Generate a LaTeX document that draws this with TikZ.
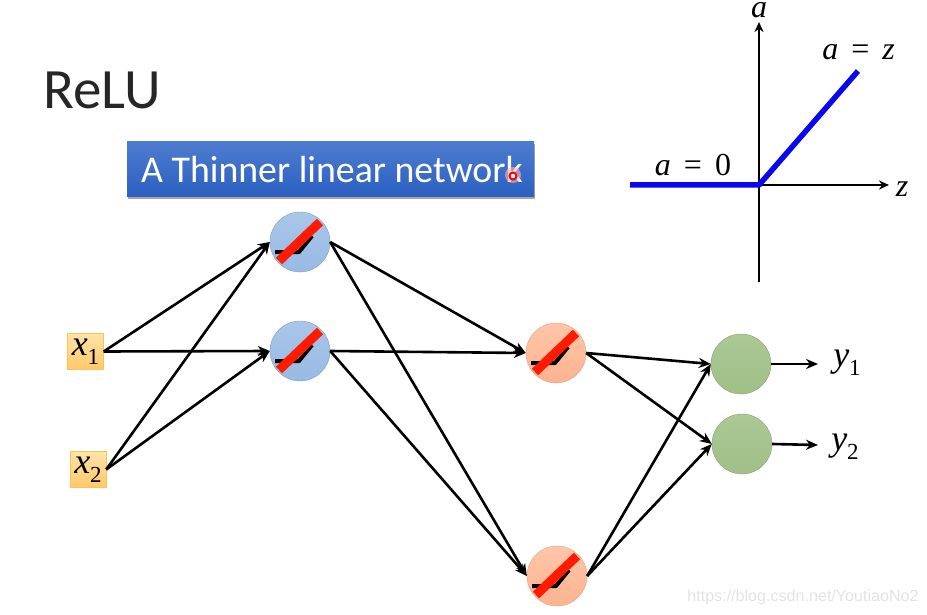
\documentclass[tikz,border=0pt]{standalone}
\usepackage{fontspec}
\setsansfont{Carlito}
\setmainfont{Liberation Serif}
\newfontfamily\markfont{Liberation Sans}
\usetikzlibrary{calc,shadows,arrows.meta}

\definecolor{bluetop}{HTML}{AAC6EA}
\definecolor{bluebot}{HTML}{97BAE3}
\definecolor{orangetop}{HTML}{FFC6A8}
\definecolor{orangebot}{HTML}{FCB390}
\definecolor{greentop}{HTML}{ABC895}
\definecolor{greenbot}{HTML}{A0C088}
\definecolor{relured}{HTML}{FF1A00}
\definecolor{relublue}{HTML}{0808EE}
\definecolor{bantop}{HTML}{4F7BCF}
\definecolor{banbot}{HTML}{2A60C0}
\definecolor{boxtop}{HTML}{FFE3A8}
\definecolor{boxbot}{HTML}{FFC86A}
\definecolor{boxline}{HTML}{F5C650}
\definecolor{titleink}{HTML}{262626}

\newcommand{\sbs}[1]{\raisebox{-9pt}{\fontsize{23}{24}\selectfont\upshape #1}}
\newcommand{\eqs}{\hspace{13pt}=\hspace{13pt}}

\tikzset{
  wire/.style = {line width = 2.6pt, -{Stealth[length=12pt, width=10pt]}},
  axis/.style = {line width = 2.3pt, -{Stealth[length=10pt, width=9pt]}},
  blueN/.style = {circle, minimum size = 60pt, draw = bluebot!85!black, top color = bluetop, bottom color = bluebot, inner sep = 0pt},
  orangeN/.style = {circle, minimum size = 60pt, draw = orangebot!90!black, top color = orangetop, bottom color = orangebot, inner sep = 0pt},
  greenN/.style = {circle, minimum size = 60pt, draw = greenbot!85!black, top color = greentop, bottom color = greenbot, inner sep = 0pt},
  inbox/.style = {draw = boxline, top color = boxtop, bottom color = boxbot, minimum size = 36pt, inner sep = 0pt, font = \itshape\fontsize{36}{38}\selectfont},
  mathlab/.style = {font = \fontsize{32}{34}\selectfont, inner sep = 0pt}
}

\begin{document}
\begin{tikzpicture}[x = 1pt, y = -1pt]
\useasboundingbox (0,0) rectangle (927,615);

\node[text = titleink, font = \sffamily\fontsize{57}{60}\selectfont, inner sep = 0pt](TITLE) at (102,90){ReLU};
\node[minimum width = 407pt, minimum height = 55pt, inner sep = 0pt, top color = bantop, bottom color = banbot, drop shadow = {shadow xshift = 1pt, shadow yshift = -2pt, fill = black, opacity = 0.35}, text = white, font = \sffamily\fontsize{37.8}{40}\selectfont](BAN) at (330.5,169.5){\hspace*{3pt}A Thinner linear network};
\node[circle, fill = red!30, minimum size = 16pt, inner sep = 0pt, opacity = 0.6](HALO) at (513,175){};
\node[circle, draw = red, line width = 2pt, fill = white, minimum size = 7pt, inner sep = 0pt](DOT) at (513,176){};

% activation plot
\coordinate (O) at (759,185);
\coordinate (ZL) at (630,185);
\coordinate (ZR) at (889,185);
\coordinate (AT) at (759,22);
\coordinate (AB) at (759,282);
\coordinate (HI) at (858,71);
\draw[axis] (ZL) -- (ZR);
\draw[axis] (AB) -- (AT);
\draw[relublue, line width = 5.5pt, line join = round] (ZL) -- (O) -- (HI);
\node[mathlab](LA) at (759,10){\textit{a}};
\node[mathlab](LZ) at (902,189){\textit{z}};
\node[mathlab](LAZ) at (858.5,52){\textit{a}\eqs\textit{z}};
\node[mathlab](LA0) at (693,165){\textit{a}\eqs 0};

% network
\node[inbox](X1) at (85.5,351.5){\textit{x}\sbs{1}};
\node[inbox](X2) at (88,469.5){\textit{x}\sbs{2}};
\node[blueN](B1) at (300,242){};
\node[blueN](B2) at (300,351){};
\node[orangeN](R1) at (556,353){};
\node[orangeN](R2) at (557,576){};
\node[greenN](G1) at (741,364){};
\node[greenN](G2) at (742,444){};
\coordinate (Y1E) at (818,364);
\coordinate (Y2E) at (818,445);
\node[mathlab, font = \itshape\fontsize{36}{38}\selectfont](Y1) at (847,363){\textit{y}\sbs{1}};
\node[mathlab, font = \itshape\fontsize{36}{38}\selectfont](Y2) at (845,447){\textit{y}\sbs{2}};

\foreach \a/\b in {X1/B1, X1/B2, X2/B1, X2/B2, B1/R1, B1/R2, B2/R1, B2/R2, R1/G1, R1/G2, R2/G1, R2/G2}
  \draw[wire] (\a.east) -- (\b.west);
\draw[wire] (G1.east) -- (Y1E);
\draw[wire] (G2.east) -- (Y2E);

% relu marks on the hidden units
\foreach \n in {B1,B2,R1,R2} {
  \draw[line width = 4pt, line join = round] ($(\n)+(-25,10)$) -- ($(\n)+(-1,10)$) -- ($(\n)+(12,-6)$);
  \draw[relured, line width = 9pt] ($(\n)+(-21,19)$) -- ($(\n)+(20,-20)$);
}

\node[text = black!11, font = \markfont\fontsize{16.1}{18}\selectfont, inner sep = 0pt](WM) at (803,597){https://blog.csdn.net/YoutiaoNo2};
\end{tikzpicture}
\end{document}
